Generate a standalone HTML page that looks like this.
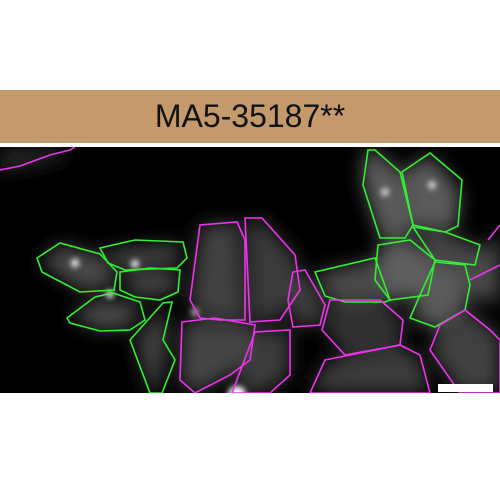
<!DOCTYPE html>
<html><head><meta charset="utf-8"><style>
html,body{margin:0;padding:0;background:#fff;width:500px;height:500px;overflow:hidden}
</style></head><body>
<svg width="500" height="500" viewBox="0 0 500 500">
<rect x="0" y="0" width="500" height="500" fill="#fff"/>
<rect x="0" y="90" width="500" height="53" fill="#c49a6c"/>
<text x="250" y="127" text-anchor="middle" font-family="Liberation Sans, sans-serif" font-size="32" fill="#111">MA5-35187**</text>
<defs>
<clipPath id="c"><rect x="0" y="147" width="500" height="246"/></clipPath>
<filter id="b" x="-20%" y="-20%" width="140%" height="140%" filterUnits="objectBoundingBox"><feGaussianBlur stdDeviation="9"/></filter>
<filter id="b2" x="-100%" y="-100%" width="300%" height="300%"><feGaussianBlur stdDeviation="3"/></filter>
</defs>
<rect x="0" y="147" width="500" height="246" fill="#000"/>
<g clip-path="url(#c)">
<g filter="url(#b)" fill="#4a4a4a">
<polygon points="0,150 70,148 60,160 0,172" fill="#2a2a2a"/>
<polygon points="40,262 60,245 100,255 115,272 110,288 80,290"/>
<polygon points="102,250 180,244 178,262 125,268"/>
<polygon points="122,274 178,272 175,293 135,296"/>
<polygon points="70,318 95,300 140,304 130,328 100,330"/>
<polygon points="135,340 165,305 168,345 158,393 150,393" fill="#404040"/>
<polygon points="190,300 200,225 240,222 245,320 200,318" fill="#404040"/>
<polygon points="248,220 262,220 295,255 298,290 280,318 250,320" fill="#3a3a3a"/>
<polygon points="183,322 255,325 250,360 200,393 180,385" fill="#444"/>
<polygon points="258,330 290,330 290,375 265,393 232,393" fill="#3a3a3a"/>
<polygon points="293,272 305,272 323,305 318,325 293,326" fill="#404040"/>
<polygon points="330,302 380,302 403,320 400,345 345,355 325,332" fill="#333"/>
<polygon points="325,362 400,347 420,357 430,393 310,393" fill="#3a3a3a"/>
<polygon points="363,152 375,150 400,172 413,225 405,238 380,238 363,185" fill="#5a5a5a"/>
<polygon points="402,172 430,155 460,190 458,226 445,230 413,225" fill="#5a5a5a"/>
<polygon points="380,245 410,240 435,260 428,295 390,300 375,280" fill="#5e5e5e"/>
<polygon points="318,272 375,260 390,300 345,302 325,296"/>
<polygon points="435,262 470,268 465,310 435,327 410,318 420,295" fill="#5a5a5a"/>
<polygon points="415,228 480,245 470,265 435,260" fill="#4a4a4a"/>
<polygon points="440,325 470,312 500,335 500,393 460,393 430,350" fill="#404040"/>
<polygon points="470,260 500,235 500,300 470,300" fill="#4a4a4a"/>
</g>
<g filter="url(#b2)" fill="#fff">
<circle cx="75" cy="263" r="4"/><circle cx="135" cy="264" r="4"/><circle cx="110" cy="294" r="4"/>
<circle cx="385" cy="192" r="4" fill="#ddd"/><circle cx="432" cy="185" r="4" fill="#ddd"/>
<circle cx="237" cy="395" r="9"/><circle cx="195" cy="312" r="4" fill="#aaa"/>
</g>
</g>
<g clip-path="url(#c)" fill="none" stroke="#33ee33" stroke-width="1.6">
<polygon points="37,258 60,243 100,254 117,272 114,290 80,292 42,272"/>
<polygon points="100,248 135,240 183,242 187,258 177,268 125,270 108,263"/>
<polygon points="120,272 150,268 180,270 178,292 160,300 135,297 120,290"/>
<polygon points="67,318 95,297 113,293 140,302 145,320 130,330 100,331 70,323"/>
<polygon points="130,340 163,303 172,302 163,340 175,360 162,393 150,393"/>
<polygon points="368,150 375,150 400,172 413,225 405,238 380,238 363,185"/>
<polygon points="402,172 430,153 462,180 458,226 445,232 413,225"/>
<polygon points="378,245 410,240 435,260 428,295 390,300 375,280"/>
<polygon points="315,272 375,258 390,300 385,302 345,302 325,296"/>
<polygon points="435,262 465,265 470,285 465,310 435,327 410,318 420,295"/>
<polygon points="413,227 445,232 480,245 475,265 435,260"/>
</g>
<g clip-path="url(#c)" fill="none" stroke="#ee33ee" stroke-width="1.6">
<polyline points="0,170 20,166 50,155 70,150 75,147"/>
<polygon points="190,300 200,225 237,222 245,240 245,320 220,320 200,318"/>
<polygon points="245,218 262,218 295,255 300,290 280,320 250,322"/>
<polygon points="182,322 215,318 255,325 250,360 230,375 195,393 180,380"/>
<polygon points="255,332 290,330 290,375 270,393 232,393"/>
<polygon points="293,272 305,270 325,305 320,325 293,327 288,300"/>
<polygon points="330,300 380,300 403,320 400,345 345,355 322,330"/>
<polygon points="325,360 400,345 420,355 430,393 310,393"/>
<polygon points="440,325 465,310 490,330 500,340 500,393 460,393 430,350"/>
<polyline points="470,280 500,265"/><polyline points="488,240 500,225"/>
</g>
<rect x="438" y="384" width="55" height="8" fill="#fff"/>
</svg>
</body></html>
